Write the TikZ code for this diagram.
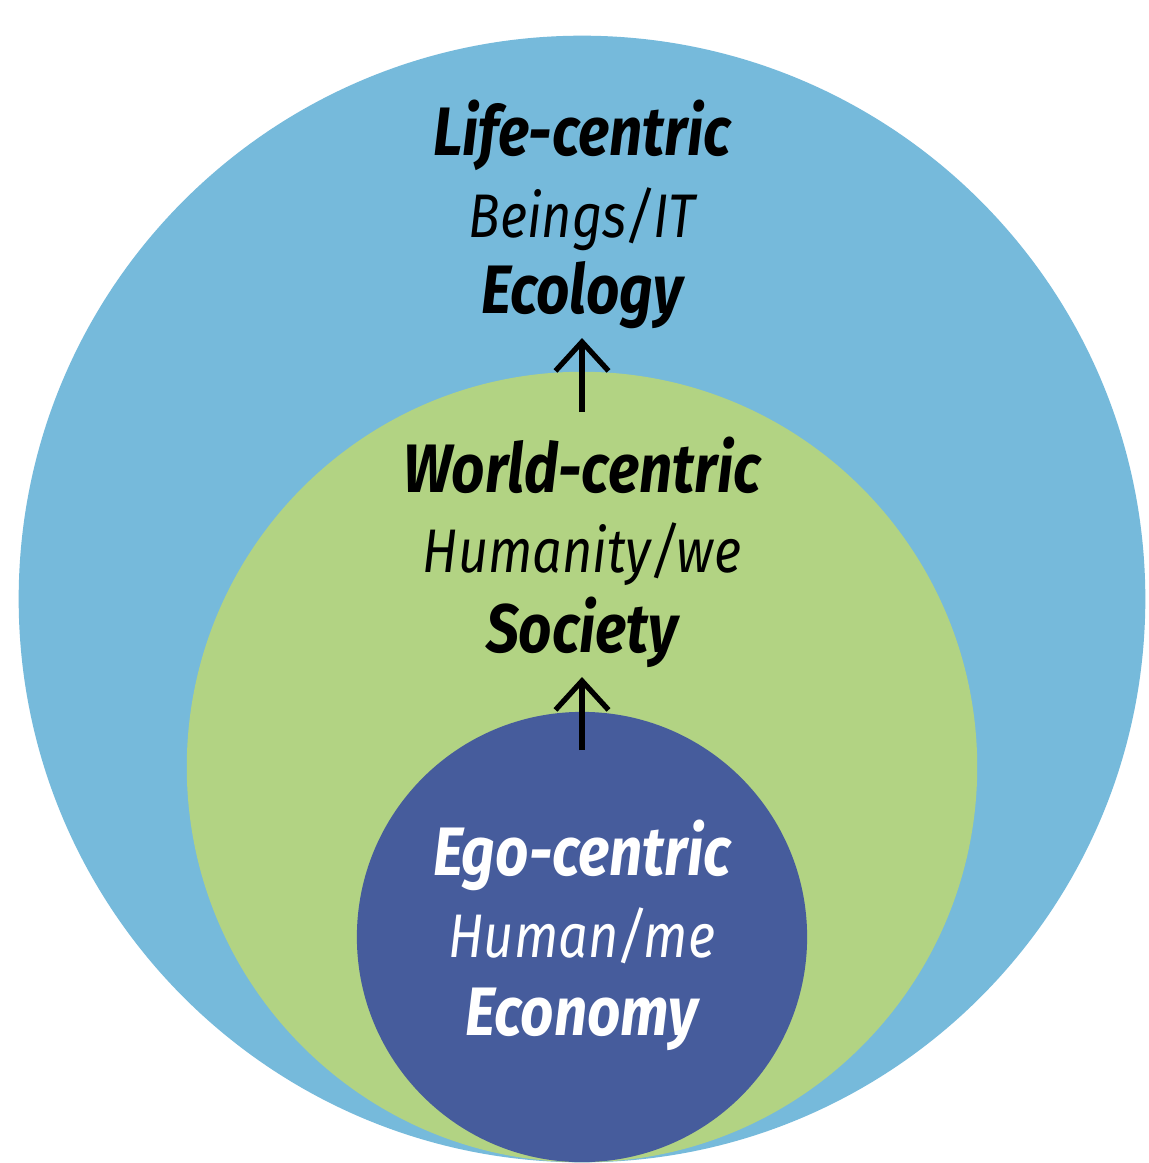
\documentclass[tikz,border=0pt]{standalone}
\usepackage{fontspec}
\setmainfont{Fira Sans}[FakeStretch=0.85]
\usepackage{tikz}
\usetikzlibrary{arrows.meta}
\definecolor{lifeblue}{HTML}{76BADB}
\definecolor{worldgreen}{HTML}{B2D383}
\definecolor{egoblue}{HTML}{465C9C}
\tikzset{
  bigtxt/.style={anchor=base, font=\fontsize{19.5}{22}\selectfont\bfseries\itshape},
  smalltxt/.style={anchor=base, font=\fontsize{17.5}{20}\selectfont\itshape},
  uparrow/.style={-{Straight Barb[length=0.29cm,width=0.53cm]}, line width=1.5pt}
}

\begin{document}
\begin{tikzpicture}[x=0.01cm, y=-0.01cm]

            % Page
            \useasboundingbox[fill=white] (0,0) rectangle (1149,1163);

            % Draw the three circles, touching at the bottom
            \fill[lifeblue] (582,599) circle (5.63cm);
            \fill[worldgreen] (582,767) circle (3.95cm);
            \fill[egoblue] (582,937) circle (2.25cm);

            % Labels for the outer circle
            \node[bigtxt] (life) at (582,155) {Life-centric};
            \node[smalltxt] (beings) at (582,237) {Beings/IT};
            \node[bigtxt] (ecology) at (582,313) {Ecology};

            % Labels for the middle circle
            \node[bigtxt] (world) at (582,492) {World-centric};
            \node[smalltxt] (humanity) at (582,572) {Humanity/we};
            \node[bigtxt] (society) at (582,652) {Society};

            % Labels for the inner circle
            \node[bigtxt, white] (ego) at (582,875) {Ego-centric};
            \node[smalltxt, white] (human) at (582,957) {Human/me};
            \node[bigtxt, white] (economy) at (582,1035) {Economy};

            % Arrows
            \coordinate (worldfoot) at (582,412);
            \coordinate (worldtip) at (582,338);
            \coordinate (egofoot) at (582,750);
            \coordinate (egotip) at (582,677);
            \draw[uparrow] (worldfoot) -- (worldtip);
            \draw[uparrow] (egofoot) -- (egotip);

        \end{tikzpicture}
\end{document}
